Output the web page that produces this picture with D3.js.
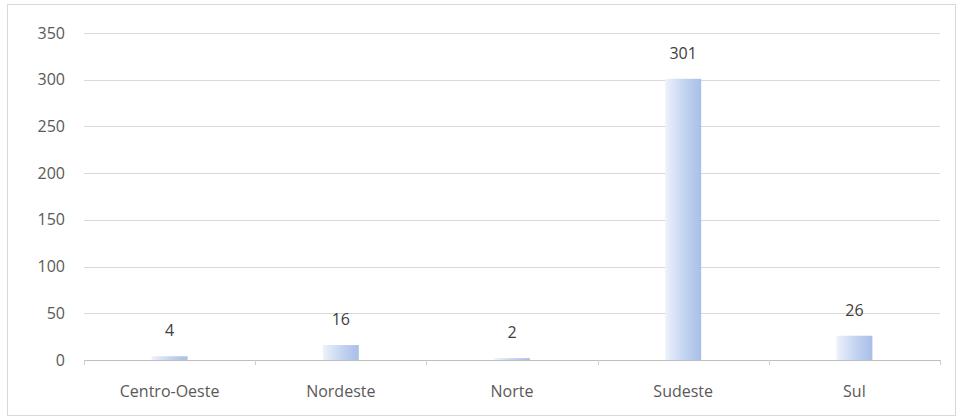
<!DOCTYPE html>
<html>
<head>
<meta charset="utf-8">
<script src="https://cdn.jsdelivr.net/npm/d3@7"></script>
<style>
  html, body { margin: 0; padding: 0; background: #fff; }
  svg { display: block; }
</style>
</head>
<body>
<svg id="chart" width="962" height="420"></svg>
<script>
// Regions and their counts
const regions = ["Centro-Oeste", "Nordeste", "Norte", "Sudeste", "Sul"];
const counts = [4, 16, 2, 301, 26];
const yTicks = [0, 50, 100, 150, 200, 250, 300, 350];

const W = 962, H = 420;
const margin = { left: 84, right: 22, top: 33, bottom: 60 };
const svg = d3.select("#chart");
const font = "'Open Sans', 'Noto Sans', sans-serif";
const labelSize = "16px";

// outer frame
svg.append("rect")
  .attr("x", 7.5).attr("y", 4.5)
  .attr("width", 948).attr("height", 411)
  .attr("fill", "#fff").attr("stroke", "#d9d9d9");

const x = d3.scaleBand()
  .domain(regions)
  .range([margin.left, W - margin.right])
  .paddingInner(0.79).paddingOuter(0.395);

const y = d3.scaleLinear()
  .domain([0, 350])
  .range([H - margin.bottom, margin.top]);

// bar gradient
const defs = svg.append("defs");
const grad = defs.append("linearGradient")
  .attr("id", "barFill")
  .attr("x1", "0").attr("y1", "0").attr("x2", "1").attr("y2", "0");
grad.append("stop").attr("offset", "0").attr("stop-color", "#eef2fb");
grad.append("stop").attr("offset", "0.5").attr("stop-color", "#c5d5f1");
grad.append("stop").attr("offset", "1").attr("stop-color", "#a8bfe9");

// gridlines
svg.append("g")
  .selectAll("line")
  .data(yTicks.filter(d => d > 0))
  .join("line")
  .attr("x1", margin.left).attr("x2", W - margin.right)
  .attr("y1", d => Math.round(y(d)) + 0.5).attr("y2", d => Math.round(y(d)) + 0.5)
  .attr("stroke", "#d9d9d9").attr("stroke-width", 1);

// y axis labels
const yAxis = svg.append("g")
  .attr("transform", `translate(${margin.left},0)`)
  .call(d3.axisLeft(y).tickValues(yTicks).tickSize(0).tickPadding(19));
yAxis.select(".domain").remove();
yAxis.selectAll("text")
  .attr("fill", "#595959")
  .style("font-family", font)
  .style("font-size", labelSize);

// bars
svg.append("g")
  .selectAll("rect")
  .data(regions)
  .join("rect")
  .attr("x", d => x(d))
  .attr("y", (d, i) => y(counts[i]))
  .attr("width", x.bandwidth())
  .attr("height", (d, i) => y(0) - y(counts[i]))
  .attr("fill", "url(#barFill)");

// x axis with boundary ticks
const x0 = y(0);
const xAxisG = svg.append("g");
xAxisG.append("line")
  .attr("x1", margin.left).attr("x2", W - margin.right)
  .attr("y1", Math.round(x0) + 0.5).attr("y2", Math.round(x0) + 0.5)
  .attr("stroke", "#bfbfbf");
const bounds = d3.range(regions.length + 1).map(i => margin.left + i * (W - margin.left - margin.right) / regions.length);
xAxisG.selectAll("line.tick")
  .data(bounds)
  .join("line")
  .attr("class", "tick")
  .attr("x1", d => Math.round(d) + 0.5).attr("x2", d => Math.round(d) + 0.5)
  .attr("y1", Math.round(x0)).attr("y2", Math.round(x0) + 5)
  .attr("stroke", "#d0d0d0");

xAxisG.selectAll("text")
  .data(regions)
  .join("text")
  .attr("x", d => x(d) + x.bandwidth() / 2)
  .attr("y", x0 + 37)
  .attr("text-anchor", "middle")
  .attr("fill", "#595959")
  .style("font-family", font)
  .style("font-size", labelSize)
  .text(d => d);

// value labels
svg.append("g")
  .selectAll("text")
  .data(regions)
  .join("text")
  .attr("x", d => x(d) + x.bandwidth() / 2)
  .attr("y", (d, i) => y(counts[i]) - 20)
  .attr("text-anchor", "middle")
  .attr("fill", "#404040")
  .style("font-family", font)
  .style("font-size", labelSize)
  .text((d, i) => counts[i]);
</script>
</body>
</html>
